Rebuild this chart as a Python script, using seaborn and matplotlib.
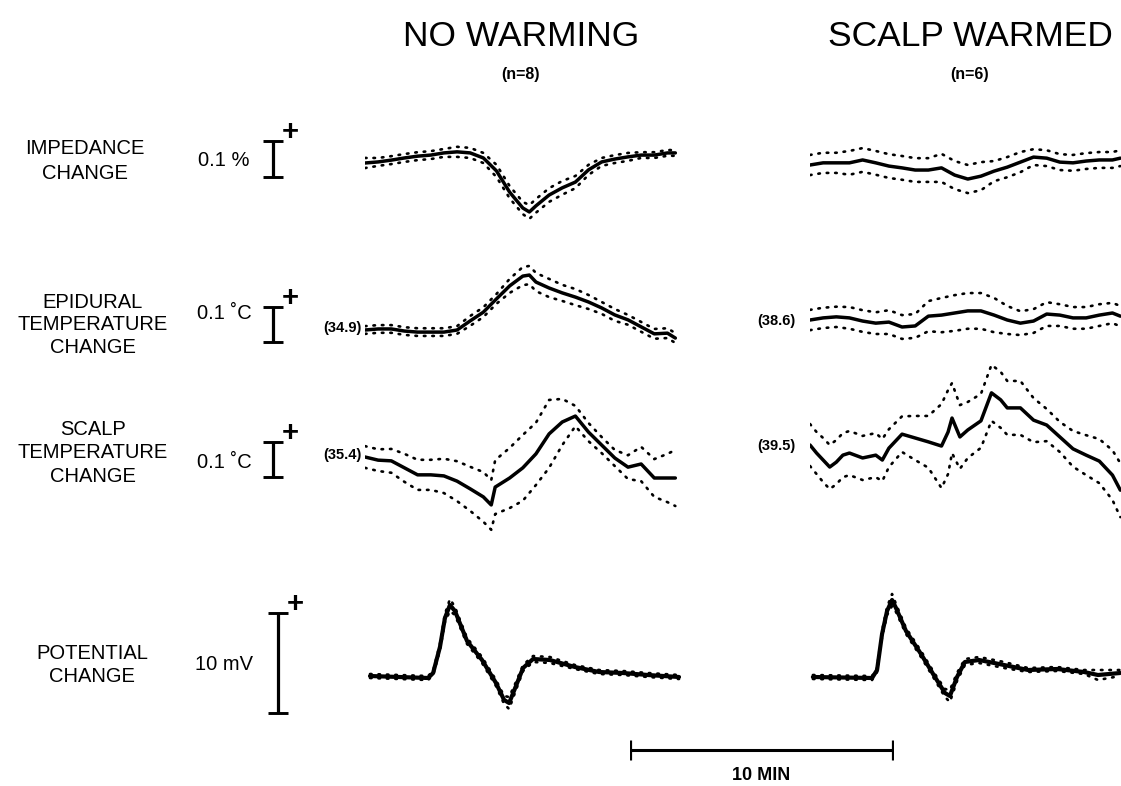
import numpy as np
import matplotlib
matplotlib.use("Agg")
import matplotlib.pyplot as plt
import seaborn as sns

sns.set_theme(style="white")
plt.rcParams['font.family'] = ['Liberation Sans', 'DejaVu Sans']
plt.rcParams['text.color'] = 'black'

# ---------------- data (time in min, change in units) ----------------
# Row 1: impedance change (%)
imp_nw_t = [0, 0.5, 1, 1.5, 2, 2.5, 3, 3.5, 4, 4.5, 5, 5.5, 6, 6.25, 6.5, 7, 7.5, 8, 8.5, 9, 9.5, 10, 10.5, 11, 11.5, 11.8]
imp_nw_mean = [0, 0.003, 0.008, 0.014, 0.019, 0.022, 0.028, 0.031, 0.028, 0.014, -0.022, -0.081, -0.125, -0.136, -0.119,
               -0.089, -0.069, -0.053, -0.019, 0.003, 0.011, 0.017, 0.022, 0.022, 0.028, 0.028]
imp_nw_sem = [0.014, 0.011, 0.011, 0.011, 0.011, 0.011, 0.011, 0.014, 0.014, 0.014, 0.017, 0.017, 0.017, 0.019, 0.019,
              0.019, 0.019, 0.017, 0.014, 0.011, 0.011, 0.011, 0.008, 0.008, 0.008, 0.008]

imp_sw_t = [0, 0.5, 1, 1.5, 2, 2.5, 3, 3.5, 4, 4.5, 5, 5.5, 6, 6.5, 7, 7.5, 8, 8.5, 9, 9.5, 10, 10.5, 11, 11.5, 11.8]
imp_sw_mean = [0, 0.006, 0.006, 0.006, 0.014, 0.006, -0.003, -0.008, -0.014, -0.014, -0.008, -0.028, -0.039, -0.031,
               -0.017, -0.006, 0.008, 0.022, 0.019, 0.008, 0.006, 0.011, 0.014, 0.014, 0.019]
imp_sw_sem = [0.028, 0.028, 0.028, 0.033, 0.033, 0.033, 0.033, 0.033, 0.033, 0.033, 0.039, 0.039, 0.039, 0.039,
              0.028, 0.028, 0.028, 0.022, 0.022, 0.022, 0.022, 0.022, 0.022, 0.022, 0.022]

# Row 2: epidural temperature change (deg C)
epi_nw_t = [0, 0.5, 1, 1.5, 2, 2.5, 3, 3.5, 4, 4.5, 5, 5.5, 6, 6.25, 6.5, 7, 7.5, 8, 8.5, 9, 9.5, 10, 10.5, 11, 11.5, 11.8]
epi_nw_mean = [0, 0.003, 0.003, -0.003, -0.006, -0.006, -0.006, 0, 0.026, 0.051, 0.089, 0.126, 0.154, 0.157, 0.137,
               0.12, 0.106, 0.094, 0.08, 0.063, 0.043, 0.029, 0.009, -0.011, -0.009, -0.023]
epi_nw_sem = [0.011, 0.011, 0.011, 0.011, 0.011, 0.011, 0.011, 0.011, 0.014, 0.014, 0.014, 0.02, 0.026, 0.026, 0.026,
              0.026, 0.023, 0.023, 0.02, 0.017, 0.017, 0.014, 0.014, 0.014, 0.014, 0.014]

epi_sw_t = [0, 0.5, 1, 1.5, 2, 2.5, 3, 3.5, 4, 4.5, 5, 5.5, 6, 6.5, 7, 7.5, 8, 8.5, 9, 9.5, 10, 10.5, 11, 11.5, 11.8]
epi_sw_mean = [0, 0.006, 0.009, 0.006, -0.003, -0.009, -0.006, -0.02, -0.017, 0.011, 0.014, 0.02, 0.026, 0.026,
               0.014, 0, -0.009, -0.003, 0.017, 0.014, 0.006, 0.006, 0.014, 0.02, 0.011]
epi_sw_sem = [0.029, 0.029, 0.029, 0.031, 0.031, 0.031, 0.034, 0.034, 0.034, 0.043, 0.049, 0.051, 0.051, 0.051,
              0.049, 0.04, 0.034, 0.034, 0.034, 0.031, 0.031, 0.031, 0.031, 0.029, 0.029]

# Row 3: scalp temperature change (deg C)
scalp_nw_t = [0, 0.5, 1, 1.5, 2, 2.5, 3, 3.5, 4, 4.5, 4.8, 4.95, 5.5, 6, 6.5, 7, 7.5, 8, 8.5, 9, 9.5, 10, 10.5, 11, 11.5, 11.8]
scalp_nw_mean = [0, -0.009, -0.011, -0.031, -0.051, -0.051, -0.054, -0.069, -0.091, -0.114, -0.137, -0.086, -0.06,
                 -0.031, 0.009, 0.066, 0.1, 0.117, 0.071, 0.034, -0.003, -0.029, -0.02, -0.06, -0.06, -0.06]
scalp_nw_sem = [0.031, 0.031, 0.034, 0.04, 0.043, 0.043, 0.049, 0.057, 0.063, 0.071, 0.071, 0.077, 0.086, 0.094,
                0.089, 0.097, 0.066, 0.029, 0.026, 0.023, 0.023, 0.034, 0.049, 0.054, 0.069, 0.08]

scalp_sw_t = [0, 0.25, 0.5, 0.75, 1, 1.25, 1.5, 2, 2.5, 2.75, 3, 3.5, 4, 4.5, 5, 5.25, 5.4, 5.7, 6, 6.5, 6.9, 7.25,
              7.5, 8, 8.5, 9, 9.5, 10, 10.5, 11, 11.5, 11.8]
scalp_sw_mean = [0, -0.023, -0.043, -0.063, -0.049, -0.029, -0.023, -0.037, -0.029, -0.043, -0.009, 0.031, 0.02,
                 0.009, -0.003, 0.037, 0.077, 0.023, 0.043, 0.069, 0.149, 0.129, 0.106, 0.106, 0.071, 0.057, 0.023,
                 -0.011, -0.029, -0.046, -0.086, -0.129]
scalp_sw_sem = [0.06, 0.06, 0.063, 0.063, 0.063, 0.063, 0.063, 0.063, 0.063, 0.06, 0.054, 0.051, 0.063, 0.074,
                0.12, 0.12, 0.1, 0.091, 0.08, 0.077, 0.08, 0.08, 0.077, 0.077, 0.063, 0.046, 0.043, 0.051, 0.057,
                0.063, 0.071, 0.077]

# Row 4: potential change (mV)
pot_nw_t = [0.19, 2.4, 2.59, 2.85, 3.04, 3.23, 3.42, 3.88, 4.45, 4.98, 5.29, 5.48, 5.74, 6.01, 6.39, 7.03, 7.98,
            8.9, 9.81, 10.76, 11.94]
pot_nw_mean = [0, -0.2, 0.3, 2.9, 5.8, 7.1, 6.5, 3.5, 1.6, -0.7, -2.4, -2.7, -1.0, 0.8, 1.7, 1.6, 0.9, 0.4, 0.3,
               0.1, -0.1]
pot_nw_sem = [0.2, 0.2, 0.2, 0.3, 0.4, 0.6, 0.4, 0.3, 0.3, 0.3, 0.4, 0.6, 0.4, 0.3, 0.3, 0.3, 0.2, 0.2, 0.2, 0.2, 0.2]

pot_sw_t = [0.11, 2.36, 2.55, 2.74, 2.93, 3.12, 3.27, 3.65, 4.22, 4.75, 5.13, 5.32, 5.59, 5.89, 6.43, 7.38, 8.29,
            9.39, 10.42, 10.95, 11.79]
pot_sw_mean = [-0.1, -0.2, 0.6, 4.2, 6.5, 7.6, 6.8, 4.5, 2.2, -0.1, -1.7, -2.0, -0.1, 1.4, 1.6, 1.1, 0.6, 0.7, 0.4,
               0.1, 0.3]
pot_sw_sem = [0.2, 0.2, 0.2, 0.3, 0.4, 0.6, 0.4, 0.3, 0.3, 0.3, 0.4, 0.6, 0.4, 0.3, 0.3, 0.3, 0.2, 0.2, 0.2, 0.5, 0.3]

row_labels = ["IMPEDANCE\nCHANGE", "EPIDURAL\nTEMPERATURE\nCHANGE", "SCALP\nTEMPERATURE\nCHANGE", "POTENTIAL\nCHANGE"]
unit_labels = ["0.1 %", "0.1 \u02daC", "0.1 \u02daC", "10 mV"]
scale_sizes = [0.1, 0.1, 0.1, 10]
start_labels_nw = [None, "(34.9)", "(35.4)", None]
start_labels_sw = [None, "(38.6)", "(39.5)", None]
col_titles = ["NO WARMING", "SCALP WARMED"]
col_n = ["(n=8)", "(n=6)"]
time_bar_min = 10

# ---------------- layout ----------------
W, H = 1121, 786
PX_PER_MIN = 26.3
fig = plt.figure(figsize=(W / 100, H / 100), dpi=100)
fig.patch.set_facecolor("white")


def px_axes(left, right, top, bottom):
    return fig.add_axes([left / W, 1 - bottom / H, (right - left) / W, (bottom - top) / H])


def panel(left, right, top, bottom, base, ppu, xmin=0.0):
    ax = px_axes(left, right, top, bottom)
    ax.set_xlim(xmin, xmin + (right - left) / PX_PER_MIN)
    ax.set_ylim(-(bottom - base) / ppu, (base - top) / ppu)
    ax.axis("off")
    return ax


def draw_trace(ax, t, m, s, lw_mean=2.4, lw_dot=1.9):
    t = np.asarray(t); m = np.asarray(m); s = np.asarray(s)
    for band in (m + s, m - s):
        sns.lineplot(x=t, y=band, ax=ax, color="black", linewidth=lw_dot, linestyle=(0, (0.6, 2.6)),
                     estimator=None, sort=False, dash_capstyle="round")
    sns.lineplot(x=t, y=m, ax=ax, color="black", linewidth=lw_mean, estimator=None, sort=False,
                 solid_joinstyle="round", solid_capstyle="round")


rows = [
    dict(band=(100, 235), ppu=360, base_nw=163, base_sw=165, bar_x=273, bar_bottom=177, lab_y=161, lab_x=85,
         unit_y=160, ls=1.38, data=((imp_nw_t, imp_nw_mean, imp_nw_sem), (imp_sw_t, imp_sw_mean, imp_sw_sem))),
    dict(band=(240, 365), ppu=350, base_nw=330, base_sw=320, bar_x=273, bar_bottom=342, lab_y=325, lab_x=93,
         unit_y=314, ls=1.24, data=((epi_nw_t, epi_nw_mean, epi_nw_sem), (epi_sw_t, epi_sw_mean, epi_sw_sem))),
    dict(band=(365, 545), ppu=350, base_nw=457, base_sw=445, bar_x=273, bar_bottom=477, lab_y=453, lab_x=93,
         unit_y=462, ls=1.28, data=((scalp_nw_t, scalp_nw_mean, scalp_nw_sem), (scalp_sw_t, scalp_sw_mean, scalp_sw_sem))),
    dict(band=(575, 725), ppu=10, base_nw=676, base_sw=676, bar_x=278, bar_bottom=713, lab_y=665, lab_x=92,
         unit_y=665, ls=1.32, data=((pot_nw_t, pot_nw_mean, pot_nw_sem), (pot_sw_t, pot_sw_mean, pot_sw_sem))),
]

NW_LEFT, NW_RIGHT = 365, 365 + 12 * PX_PER_MIN
SW_LEFT, SW_RIGHT = 810, 1121

for i, r in enumerate(rows):
    top, bottom = r["band"]
    lw_mean = 3.0 if i == 3 else 2.5
    ax_nw = panel(NW_LEFT, NW_RIGHT, top, bottom, r["base_nw"], r["ppu"])
    draw_trace(ax_nw, *r["data"][0], lw_mean=lw_mean)
    ax_sw = panel(SW_LEFT, SW_RIGHT, top, bottom, r["base_sw"], r["ppu"])
    draw_trace(ax_sw, *r["data"][1], lw_mean=lw_mean)

    # row label
    fig.text(r["lab_x"] / W, 1 - r["lab_y"] / H, row_labels[i], ha="center", va="center",
             fontsize=14.5, linespacing=r["ls"], color="black")
    # unit label
    fig.text(224 / W, 1 - r["unit_y"] / H, unit_labels[i], ha="center", va="center", fontsize=14.5, color="black")

    # vertical scale bar
    axb = panel(r["bar_x"] - 20, r["bar_x"] + 20, top, bottom, r["bar_bottom"], r["ppu"])
    axb.set_xlim(-1, 1)
    size = scale_sizes[i]
    axb.errorbar([0], [size / 2], yerr=[size / 2], fmt="none", ecolor="black", elinewidth=2.3,
                 capsize=7.5, capthick=2.1)
    axb.annotate("+", xy=(0, size), xytext=(12.5, 6.5), textcoords="offset points", ha="center",
                 va="center", fontsize=21, fontweight="bold", color="black", annotation_clip=False)

    # starting absolute values
    if start_labels_nw[i]:
        fig.text(362 / W, 1 - (r["base_nw"] - 2) / H, start_labels_nw[i], ha="right", va="center",
                 fontsize=10.5, fontweight="bold", color="black")
    if start_labels_sw[i]:
        fig.text(796 / W, 1 - (r["base_sw"] + 1) / H, start_labels_sw[i], ha="right", va="center",
                 fontsize=10.5, fontweight="bold", color="black")

# column titles
for cx, title, n in zip([521, 970], col_titles, col_n):
    fig.text(cx / W, 1 - 37 / H, title, ha="center", va="center", fontsize=25.5, color="black")
    fig.text(cx / W, 1 - 75 / H, n, ha="center", va="center", fontsize=11.5, fontweight="bold", color="black")

# time scale bar (10 min)
axt = px_axes(630, 630 + time_bar_min * PX_PER_MIN, 735, 765)
axt.set_xlim(0, time_bar_min)
axt.set_ylim(-1, 1)
axt.axis("off")
axt.errorbar([time_bar_min / 2], [0], xerr=[time_bar_min / 2], fmt="none", ecolor="black", elinewidth=2.2,
             capsize=7, capthick=2.3)
fig.text(761 / W, 1 - 776 / H, f"{time_bar_min} MIN", ha="center", va="center", fontsize=13,
         fontweight="bold", color="black")

fig.savefig("out.png", dpi=100, facecolor="white")
